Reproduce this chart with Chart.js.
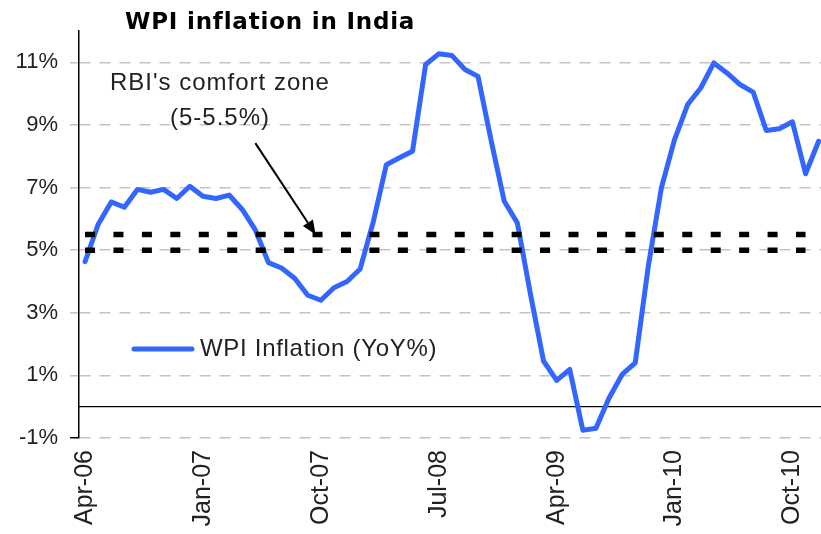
<!DOCTYPE html>
<html>
<head>
<meta charset="utf-8">
<script src="https://cdn.jsdelivr.net/npm/chart.js@4/dist/chart.umd.min.js"></script>
<style>
  body { margin: 0; background: #fff; }
  #wrap { position: relative; width: 821px; height: 534px; }
  #title {
    position: absolute; left: 125px; top: 10px;
    font: bold 23px 'DejaVu Sans', Verdana, sans-serif;
    line-height: 23px; letter-spacing: 0.8px; color: #000;
  }
</style>
</head>
<body>
<div id="wrap">
  <canvas id="wpiChart"></canvas>
  <div id="title">WPI inflation in India</div>
</div>
<script>
// monthly, Apr-06 .. Dec-10
const months = [
  'Apr-06','May-06','Jun-06','Jul-06','Aug-06','Sep-06','Oct-06','Nov-06','Dec-06',
  'Jan-07','Feb-07','Mar-07','Apr-07','May-07','Jun-07','Jul-07','Aug-07','Sep-07','Oct-07','Nov-07','Dec-07',
  'Jan-08','Feb-08','Mar-08','Apr-08','May-08','Jun-08','Jul-08','Aug-08','Sep-08','Oct-08','Nov-08','Dec-08',
  'Jan-09','Feb-09','Mar-09','Apr-09','May-09','Jun-09','Jul-09','Aug-09','Sep-09','Oct-09','Nov-09','Dec-09',
  'Jan-10','Feb-10','Mar-10','Apr-10','May-10','Jun-10','Jul-10','Aug-10','Sep-10','Oct-10','Nov-10','Dec-10'
];
const wpi = [
  4.63, 5.82, 6.54, 6.37, 6.94, 6.85, 6.94, 6.65, 7.04,
  6.72, 6.65, 6.76, 6.3, 5.65, 4.6, 4.43, 4.1, 3.56, 3.4, 3.8, 4.0,
  4.4, 5.9, 7.73, 7.95, 8.16, 10.93, 11.27, 11.22, 10.77, 10.55, 8.5, 6.56,
  5.87, 3.6, 1.46, 0.84, 1.19, -0.75, -0.69, 0.28, 1.03, 1.4, 4.5, 7.0,
  8.53, 9.65, 10.18, 10.98, 10.66, 10.29, 10.05, 8.82, 8.88, 9.1, 7.44, 8.48
];
const tickMonths = ['Apr-06', 'Jan-07', 'Oct-07', 'Jul-08', 'Apr-09', 'Jan-10', 'Oct-10'];
const yTicks = [-1, 1, 3, 5, 7, 9, 11];
const comfortZone = [5, 5.5];
const comfortSpan = ['Apr-06', 'Nov-10'];
const seriesLabel = 'WPI Inflation (YoY%)';
const noteLines = ["RBI's comfort zone", '(5-5.5%)'];

const FONT = "'Liberation Sans', Arial, sans-serif";
const BLUE = '#3366ff';

// note / arrow anchors in data units (month index, %)
const notePos = { x: 10.3, y: [10.33, 9.21] };
const arrowFrom = { x: 13, y: 8.42 };
const arrowTo = { x: 17.6, y: 5.5 };

const overlay = {
  id: 'overlay',
  beforeDatasetsDraw(chart) {
    const { ctx, chartArea: a, scales: { y } } = chart;
    const y0 = y.getPixelForValue(0);
    ctx.save();
    ctx.strokeStyle = '#000';
    ctx.lineWidth = 1.3;
    ctx.beginPath();
    ctx.moveTo(a.left, y0);
    ctx.lineTo(a.right, y0);
    ctx.stroke();
    ctx.restore();
  },
  afterDatasetsDraw(chart) {
    const { ctx, chartArea: a, scales: { x, y } } = chart;
    ctx.save();

    // comfort zone note
    ctx.fillStyle = '#222';
    ctx.font = '24px ' + FONT;
    ctx.letterSpacing = '1px';
    ctx.textAlign = 'center';
    ctx.textBaseline = 'middle';
    noteLines.forEach((t, i) => {
      ctx.fillText(t, x.getPixelForValue(notePos.x), y.getPixelForValue(notePos.y[i]));
    });

    // arrow
    const x1 = x.getPixelForValue(arrowFrom.x), y1 = y.getPixelForValue(arrowFrom.y);
    const x2 = x.getPixelForValue(arrowTo.x), y2 = y.getPixelForValue(arrowTo.y);
    const ang = Math.atan2(y2 - y1, x2 - x1);
    const head = 14, half = 6;
    ctx.strokeStyle = '#000';
    ctx.lineWidth = 2;
    ctx.beginPath();
    ctx.moveTo(x1, y1);
    ctx.lineTo(x2 - head * Math.cos(ang), y2 - head * Math.sin(ang));
    ctx.stroke();
    ctx.fillStyle = '#000';
    ctx.beginPath();
    ctx.moveTo(x2, y2);
    ctx.lineTo(x2 - head * Math.cos(ang) + half * Math.sin(ang), y2 - head * Math.sin(ang) - half * Math.cos(ang));
    ctx.lineTo(x2 - head * Math.cos(ang) - half * Math.sin(ang), y2 - head * Math.sin(ang) + half * Math.cos(ang));
    ctx.closePath();
    ctx.fill();

    // legend inside plot
    const ly = a.top + 318;
    ctx.strokeStyle = BLUE;
    ctx.lineWidth = 5;
    ctx.lineCap = 'round';
    ctx.beginPath();
    ctx.moveTo(a.left + 55, ly);
    ctx.lineTo(a.left + 113, ly);
    ctx.stroke();
    ctx.fillStyle = '#222';
    ctx.font = '24px ' + FONT;
    ctx.letterSpacing = '0.7px';
    ctx.textAlign = 'left';
    ctx.fillText(seriesLabel, a.left + 121, ly);

    ctx.restore();
  }
};

const comfortDataset = (v) => ({
  data: comfortSpan.map(m => ({ x: months.indexOf(m), y: v })),
  borderColor: '#000',
  borderWidth: 5.5,
  borderDash: [10, 18.44],
  borderCapStyle: 'butt',
  pointRadius: 0,
  fill: false
});

new Chart(document.getElementById('wpiChart'), {
  type: 'line',
  data: {
    datasets: [
      comfortDataset(comfortZone[0]),
      comfortDataset(comfortZone[1]),
      {
        label: seriesLabel,
        data: wpi.map((v, i) => ({ x: i, y: v })),
        borderColor: BLUE,
        borderWidth: 5,
        borderJoinStyle: 'round',
        borderCapStyle: 'round',
        pointRadius: 0,
        tension: 0,
        fill: false
      }
    ]
  },
  options: {
    responsive: true,
    maintainAspectRatio: false,
    animation: false,
    layout: { padding: { top: 31, left: 0, right: 0, bottom: 0 } },
    plugins: { legend: { display: false }, tooltip: { enabled: false } },
    scales: {
      x: {
        type: 'linear',
        min: -0.46,
        max: 56.18,
        afterBuildTicks: s => { s.ticks = tickMonths.map(m => ({ value: months.indexOf(m) })); },
        afterFit: s => { s.height = 96; s.paddingLeft = 0; s.paddingRight = 0; },
        grid: { display: false, drawTicks: false },
        border: { display: false },
        ticks: {
          callback: v => months[v],
          minRotation: 90,
          maxRotation: 90,
          autoSkip: false,
          padding: 12,
          color: '#222',
          font: { family: FONT, size: 25 }
        }
      },
      y: {
        min: -1,
        max: 12,
        afterBuildTicks: s => { s.ticks = yTicks.map(v => ({ value: v })); },
        afterFit: s => { s.width = 79; },
        grid: {
          color: '#c4c4c4',
          lineWidth: 1.5,
          tickLength: 9,
          tickColor: c => (c.tick && c.tick.value === -1 ? '#000' : '#c4c4c4')
        },
        border: { display: true, color: '#000', width: 1.5, dash: [11, 9] },
        ticks: {
          callback: v => v + '%',
          padding: 12,
          color: '#222',
          font: { family: FONT, size: 22 }
        }
      }
    }
  },
  plugins: [overlay]
});
</script>
</body>
</html>
